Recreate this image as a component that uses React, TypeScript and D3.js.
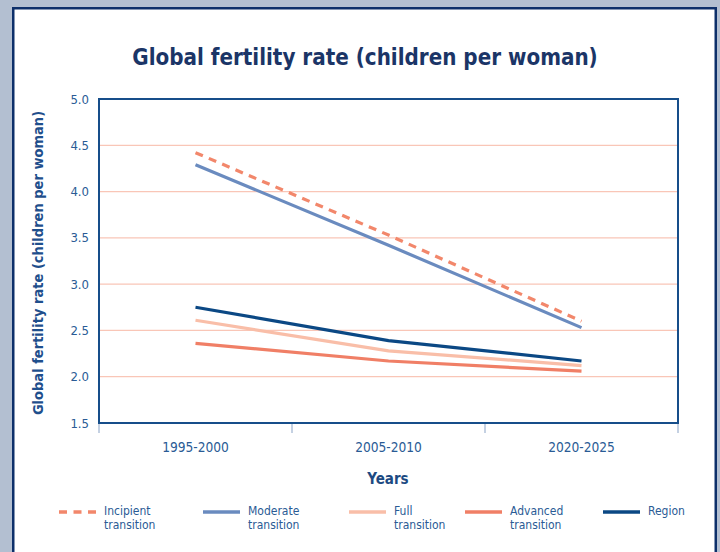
import React from "react";
import * as d3 from "d3";

const categories = ["1995-2000", "2005-2010", "2020-2025"];
const incipient = [4.42, 3.53, 2.6];
const moderate = [4.29, 3.42, 2.53];
const full = [2.61, 2.28, 2.12];
const advanced = [2.36, 2.17, 2.06];
const region = [2.75, 2.39, 2.17];
const yTicks = [1.5, 2.0, 2.5, 3.0, 3.5, 4.0, 4.5, 5.0];

const seriesNames = ["Incipient transition", "Moderate transition", "Full transition", "Advanced transition", "Region"];
const seriesColors = ["#f2876b", "#6a8bbf", "#f9bea8", "#f07f66", "#0b4884"];

const W = 720;
const H = 552;
const margin = { left: 99, right: 678, top: 99, bottom: 423 };
const FONT = "'Liberation Sans Narrow', 'DejaVu Sans Condensed', 'Roboto', sans-serif";
const TXT = "#2a5b95";

export default function App() {
  const x = d3.scaleBand<string>().domain(categories).range([margin.left, margin.right]);
  const y = d3.scaleLinear().domain([1.5, 5.0]).range([margin.bottom, margin.top]);
  const line = d3
    .line<number>()
    .x((_, i) => (x(categories[i]) as number) + x.bandwidth() / 2)
    .y((d) => y(d));

  const data = [incipient, moderate, full, advanced, region];
  const drawOrder = [3, 2, 4, 1, 0];

  const legendX = [59, 203, 349, 465, 603];

  return (
    <div style={{ position: "fixed", left: 0, top: 0, width: W, height: H }}>
      <svg width={W} height={H} style={{ display: "block" }}>
        <rect x={0} y={0} width={W} height={H} fill="#b3bfd1" />
        <rect x={13.25} y={8.25} width={702.5} height={H + 20} fill="#ffffff" stroke="#0d2f6a" strokeWidth={2.5} />
        <text x={365} y={65} textAnchor="middle" fontFamily={FONT} fontWeight="bold" fontSize={22.2} fill="#1b3567">
          Global fertility rate (children per woman)
        </text>
        {yTicks.slice(1, -1).map((t) => (
          <line key={"g" + t} x1={margin.left} x2={margin.right} y1={y(t)} y2={y(t)} stroke="#f9c6b7" strokeWidth={1.3} />
        ))}
        {yTicks.map((t) => (
          <text key={"yt" + t} x={89} y={y(t) + 4.5} textAnchor="end" fontFamily={FONT} fontSize={13} fill={TXT}>
            {d3.format(".1f")(t)}
          </text>
        ))}
        {[...categories.map((c) => x(c) as number), margin.right].map((v, i) => (
          <line key={"xt" + i} x1={v} x2={v} y1={margin.bottom} y2={margin.bottom + 10} stroke="#8aa3c6" strokeWidth={1} />
        ))}
        {categories.map((c) => (
          <text key={"xl" + c} x={(x(c) as number) + x.bandwidth() / 2} y={452} textAnchor="middle" fontFamily={FONT} fontSize={13.6} fill={TXT}>
            {c}
          </text>
        ))}
        {drawOrder.map((i) => (
          <path
            key={"s" + i}
            d={line(data[i]) || ""}
            fill="none"
            stroke={seriesColors[i]}
            strokeWidth={3.2}
            strokeDasharray={i === 0 ? "8,6.5" : undefined}
          />
        ))}
        <rect x={margin.left} y={margin.top} width={margin.right - margin.left} height={margin.bottom - margin.top} fill="none" stroke="#164e8a" strokeWidth={2} />
        <text x={388} y={484} textAnchor="middle" fontFamily={FONT} fontWeight="bold" fontSize={15} fill="#1d4a82">
          Years
        </text>
        <text
          transform={`translate(43, ${(margin.top + margin.bottom) / 2 + 2}) rotate(-90)`}
          textAnchor="middle"
          fontFamily={FONT}
          fontWeight="bold"
          fontSize={14.5}
          fill="#1f4f8c"
        >
          Global fertility rate (children per woman)
        </text>
        {seriesNames.map((name, i) => {
          const parts = name.split(" ");
          const lx = legendX[i];
          return (
            <g key={"lg" + i}>
              <line
                x1={lx}
                x2={lx + 37}
                y1={512}
                y2={512}
                stroke={seriesColors[i]}
                strokeWidth={3.5}
                strokeDasharray={i === 0 ? "8,6.5" : undefined}
              />
              <text x={lx + 45} y={515} fontFamily={FONT} fontSize={12} fill={TXT}>
                {parts[0]}
              </text>
              {parts[1] ? (
                <text x={lx + 45} y={529} fontFamily={FONT} fontSize={12} fill={TXT}>
                  {parts[1]}
                </text>
              ) : null}
            </g>
          );
        })}
      </svg>
    </div>
  );
}
